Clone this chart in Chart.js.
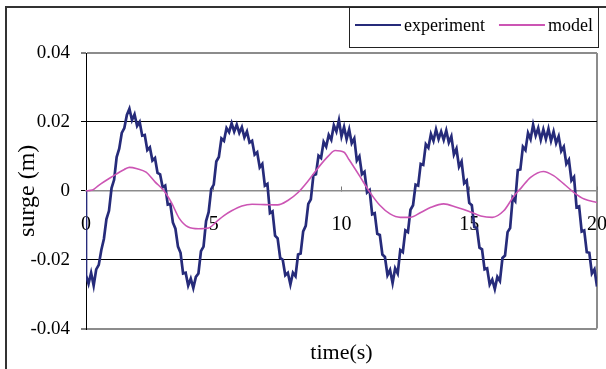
<!DOCTYPE html>
<html>
<head>
<meta charset="utf-8">
<script src="https://cdn.jsdelivr.net/npm/chart.js@4.4.1/dist/chart.umd.min.js"></script>
<style>
  body { margin: 0; background: #fff; }
</style>
</head>
<body>
<canvas id="surgeChart" width="606" height="369"></canvas>
<script>
var xTicks = [0, 5, 10, 15, 20];
var yTicks = [-0.04, -0.02, 0, 0.02, 0.04];

// measured surge (m), one sample every 0.1 s; the leading 0 is the release point
var expSurge = [0,
  -0.0245, -0.0270, -0.0238, -0.0275, -0.0228, -0.0215, -0.0172, -0.0140, -0.0082, -0.0058,
  0.0008, 0.0032, 0.0098, 0.0122, 0.0168, 0.0182, 0.0220, 0.0238, 0.0205, 0.0222,
  0.0188, 0.0200, 0.0160, 0.0162, 0.0118, 0.0126, 0.0088, 0.0095, 0.0052, 0.0048,
  0.0010, 0.0015, -0.0040, -0.0038, -0.0092, -0.0110, -0.0162, -0.0180, -0.0240, -0.0238,
  -0.0275, -0.0255, -0.0282, -0.0250, -0.0240, -0.0175, -0.0162, -0.0088, -0.0062, 0.0005,
  0.0018, 0.0085, 0.0098, 0.0152, 0.0145, 0.0182, 0.0170, 0.0196, 0.0172, 0.0192,
  0.0168, 0.0185, 0.0155, 0.0172, 0.0140, 0.0145, 0.0105, 0.0112, 0.0068, 0.0078,
  0.0015, 0.0020, -0.0065, -0.0060, -0.0130, -0.0138, -0.0195, -0.0200, -0.0245, -0.0238,
  -0.0272, -0.0238, -0.0248, -0.0185, -0.0182, -0.0118, -0.0102, -0.0038, -0.0025, 0.0045,
  0.0048, 0.0102, 0.0095, 0.0142, 0.0128, 0.0162, 0.0148, 0.0190, 0.0172, 0.0205,
  0.0158, 0.0185, 0.0150, 0.0178, 0.0138, 0.0152, 0.0088, 0.0100, 0.0048, 0.0055,
  -0.0005, 0.0002, -0.0068, -0.0065, -0.0125, -0.0128, -0.0185, -0.0192, -0.0245, -0.0230,
  -0.0268, -0.0225, -0.0240, -0.0172, -0.0178, -0.0115, -0.0120, -0.0055, -0.0042, 0.0018,
  0.0015, 0.0078, 0.0075, 0.0135, 0.0125, 0.0165, 0.0145, 0.0178, 0.0150, 0.0172,
  0.0148, 0.0175, 0.0140, 0.0158, 0.0105, 0.0122, 0.0070, 0.0085, 0.0022, 0.0030,
  -0.0035, -0.0042, -0.0105, -0.0108, -0.0165, -0.0170, -0.0228, -0.0225, -0.0272, -0.0258,
  -0.0285, -0.0250, -0.0262, -0.0195, -0.0188, -0.0120, -0.0108, -0.0020, -0.0030, 0.0060,
  0.0062, 0.0128, 0.0118, 0.0168, 0.0150, 0.0192, 0.0160, 0.0182, 0.0148, 0.0178,
  0.0150, 0.0180, 0.0145, 0.0172, 0.0138, 0.0158, 0.0115, 0.0128, 0.0078, 0.0090,
  0.0030, 0.0040, -0.0048, -0.0045, -0.0118, -0.0115, -0.0178, -0.0180, -0.0240, -0.0228,
  -0.0278
];
var expTime = [0];
for (var k = 0; k < expSurge.length - 1; k++) {
  expTime.push(k / 10);
}

var modelTime = [0, 0.25, 0.5, 1.0, 1.5, 1.7, 2.0, 2.35, 2.7, 3.05, 3.35, 3.65, 4.0, 4.4, 4.8,
  5.1, 5.4, 5.7, 6.1, 6.5, 7.0, 7.5, 7.9, 8.3, 8.7, 9.1, 9.5, 9.75, 10.1, 10.3, 10.7,
  11.1, 11.5, 11.9, 12.3, 12.7, 13.1, 13.5, 14.0, 14.5, 15.0, 15.45, 15.9, 16.35, 16.75,
  17.05, 17.4, 17.9, 18.3, 18.7, 19.1, 19.5, 20.0];
var modelSurge = [0, 0.0002, 0.0016, 0.0040, 0.0062, 0.0068, 0.0064, 0.0054, 0.0026, 0.0000, -0.0035, -0.0080, -0.0105, -0.0110, -0.0108,
  -0.0090, -0.0072, -0.0058, -0.0044, -0.0039, -0.0040, -0.0041, -0.0028, -0.0005, 0.0029, 0.0068, 0.0102, 0.0117, 0.0112, 0.0090, 0.0044,
  -0.0003, -0.0042, -0.0067, -0.0077, -0.0077, -0.0063, -0.0048, -0.0038, -0.0048, -0.0060, -0.0073, -0.0077, -0.0058, -0.0015,
  0.0010, 0.0039, 0.0056, 0.0044, 0.0020, -0.0005, -0.0024, -0.0034];

var serif = "'Liberation Serif', 'Times New Roman', serif";

function toPoints(xs, ys) {
  return xs.map(function(x, i) { return {x: x, y: ys[i]}; });
}

// outer frame, right edge of the plot and the boxed legend
var framePlugin = {
  id: 'frame',
  beforeDraw: function(chart) {
    var ctx = chart.ctx, a = chart.chartArea;
    ctx.save();
    ctx.fillStyle = '#fff';
    ctx.fillRect(0, 0, chart.width, chart.height);
    ctx.strokeStyle = '#333';
    ctx.lineWidth = 2;
    ctx.beginPath();
    ctx.moveTo(6, chart.height);
    ctx.lineTo(6, 7);
    ctx.lineTo(chart.width, 7);
    ctx.stroke();
    ctx.strokeStyle = '#8c8c8c';
    ctx.beginPath();
    ctx.moveTo(a.right, a.top);
    ctx.lineTo(a.right, a.bottom);
    ctx.stroke();
    ctx.restore();
  },
  afterDraw: function(chart) {
    var ctx = chart.ctx;
    ctx.save();
    ctx.strokeStyle = '#222';
    ctx.lineWidth = 1;
    ctx.strokeRect(349.5, 7.5, 249, 40);
    ctx.font = '18px ' + serif;
    ctx.textBaseline = 'middle';
    ctx.fillStyle = '#000';
    var x = 355;
    chart.data.datasets.forEach(function(ds) {
      ctx.strokeStyle = ds.borderColor;
      ctx.lineWidth = 2;
      ctx.beginPath();
      ctx.moveTo(x, 25);
      ctx.lineTo(x + 46, 25);
      ctx.stroke();
      ctx.fillText(ds.label, x + 49, 26);
      x += 49 + ctx.measureText(ds.label).width + 14;
    });
    ctx.restore();
  }
};

var ctx = document.getElementById('surgeChart').getContext('2d');
var surgeChart = new Chart(ctx, {
  type: 'line',
  data: {
    datasets: [{
      label: 'experiment',
      data: toPoints(expTime, expSurge),
      borderColor: '#262b7a',
      borderWidth: 2.7,
      pointRadius: 0,
      tension: 0,
      order: 1
    }, {
      label: 'model',
      data: toPoints(modelTime, modelSurge),
      borderColor: '#cc55b4',
      borderWidth: 1.6,
      pointRadius: 0,
      cubicInterpolationMode: 'monotone',
      order: 0
    }]
  },
  options: {
    responsive: false,
    animation: false,
    devicePixelRatio: 1,
    layout: { padding: { top: 53, right: 9, bottom: 0, left: 0 } },
    plugins: {
      legend: { display: false },
      tooltip: { enabled: false },
      title: {
        display: true,
        text: 'time(s)',
        position: 'bottom',
        fullSize: false,
        color: '#000',
        font: { family: serif, size: 22, weight: 'normal' },
        padding: { top: 11, bottom: 3 }
      }
    },
    scales: {
      x: {
        type: 'linear',
        min: 0,
        max: 20,
        position: { y: 0 },
        afterBuildTicks: function(s) { s.ticks = xTicks.map(function(v) { return {value: v}; }); },
        afterFit: function(s) { s.paddingLeft = 0; s.paddingRight = 0; },
        ticks: { color: '#000', font: { family: serif, size: 20 }, padding: 27, maxRotation: 0, autoSkip: false },
        grid: { drawOnChartArea: false, tickLength: -5, color: '#777', tickColor: '#777' },
        border: { color: '#8c8c8c', width: 1.5 }
      },
      y: {
        min: -0.04,
        max: 0.04,
        afterBuildTicks: function(s) { s.ticks = yTicks.map(function(v) { return {value: v}; }); },
        afterFit: function(s) { s.width = 86; },
        ticks: {
          color: '#000',
          font: { family: serif, size: 19 },
          padding: 11,
          callback: function(v) { return String(v); }
        },
        grid: {
          color: function(c) {
            var v = Math.abs(c.tick.value);
            return (v > 0.01 && v < 0.03) ? '#000' : '#8c8c8c';
          },
          lineWidth: function(c) { return Math.abs(c.tick.value) > 0.03 ? 2 : 1; },
          tickColor: '#000',
          tickWidth: 1,
          tickLength: 5
        },
        border: { color: '#000', width: 1 },
        title: {
          display: true,
          text: 'surge (m)',
          color: '#000',
          font: { family: serif, size: 24 },
          padding: { top: 13, bottom: 0 }
        }
      }
    }
  },
  plugins: [framePlugin]
});
</script>
</body>
</html>
